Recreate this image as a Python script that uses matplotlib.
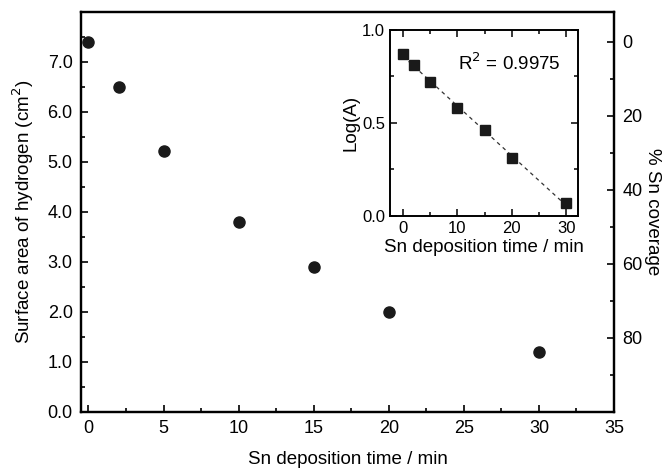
import numpy as np
import matplotlib
matplotlib.use("Agg")
import matplotlib.pyplot as plt
from matplotlib.ticker import MultipleLocator

plt.rcParams['font.family'] = ['Liberation Sans', 'DejaVu Sans']

# main data
dep_time = [0, 2, 5, 10, 15, 20, 30]
h_area = [7.4, 6.5, 5.22, 3.8, 2.9, 2.0, 1.2]

# inset data
log_area = [0.87, 0.81, 0.72, 0.58, 0.46, 0.31, 0.07]
r2_text = "R$^2$ = 0.9975"

fig = plt.figure(figsize=(6.72, 4.68), dpi=100)
ax = fig.add_axes([0.1205, 0.1197, 0.7932, 0.8547])

ax.plot(dep_time, h_area, 'o', color='#1a1a1a', markersize=8)
ax.set_xlim(-0.5, 35)
ax.set_ylim(0, 8)
ax.xaxis.set_major_locator(MultipleLocator(5))
ax.xaxis.set_minor_locator(MultipleLocator(2.5))
ax.yaxis.set_minor_locator(MultipleLocator(0.5))
ax.set_yticks(np.arange(0, 8, 1.0))
ax.set_yticklabels([f"{v:.1f}" for v in np.arange(0, 8, 1.0)])
ax.tick_params(which='both', direction='in', labelsize=13, top=False, right=False)
ax.tick_params(which='major', length=5, width=1.2, pad=6)
ax.tick_params(which='minor', length=3, width=1.2)
for s in ax.spines.values():
    s.set_linewidth(1.6)
ax.set_xlabel("Sn deposition time / min", fontsize=13.5, labelpad=10)
ax.set_ylabel("Surface area of hydrogen (cm$^2$)", fontsize=13.5, labelpad=8)

# right axis: % Sn coverage
ax2 = ax.twinx()
ax2.set_ylim(100, (1 - 8 / 7.4) * 100)
ax2.yaxis.set_minor_locator(MultipleLocator(10))
ax2.set_yticks([0, 20, 40, 60, 80])
ax2.tick_params(which='both', direction='in', labelsize=13)
ax2.tick_params(which='major', length=5, width=1.2, pad=6)
ax2.tick_params(which='minor', length=3, width=1.2)
for s in ax2.spines.values():
    s.set_linewidth(1.6)
ax2.set_ylabel("% Sn coverage", fontsize=13.5, rotation=270, labelpad=13)

# inset
axi = fig.add_axes([0.5804, 0.5385, 0.2798, 0.3974])
fit = np.polyfit(dep_time, log_area, 1)
xf = np.array([dep_time[0], dep_time[-1]])
axi.plot(xf, np.polyval(fit, xf), '--', color='#333333', linewidth=0.9, dashes=(3, 3))
axi.plot(dep_time, log_area, 's', color='#1a1a1a', markersize=7.5)
axi.set_xlim(-2.4, 32.2)
axi.set_ylim(0, 1)
axi.xaxis.set_major_locator(MultipleLocator(10))
axi.xaxis.set_minor_locator(MultipleLocator(5))
axi.yaxis.set_major_locator(MultipleLocator(0.5))
axi.yaxis.set_minor_locator(MultipleLocator(0.25))
axi.tick_params(which='both', direction='in', labelsize=12, top=True, right=True)
axi.tick_params(which='major', length=5, width=1.1)
axi.tick_params(which='minor', length=3, width=1.1)
for s in axi.spines.values():
    s.set_linewidth(1.4)
axi.set_xlabel("Sn deposition time / min", fontsize=13.5, labelpad=2)
axi.set_ylabel("Log(A)", fontsize=13.5, labelpad=2)
axi.text(0.36, 0.82, r2_text, transform=axi.transAxes, fontsize=13.5, ha='left', va='center')

fig.savefig("out.png", dpi=100)
